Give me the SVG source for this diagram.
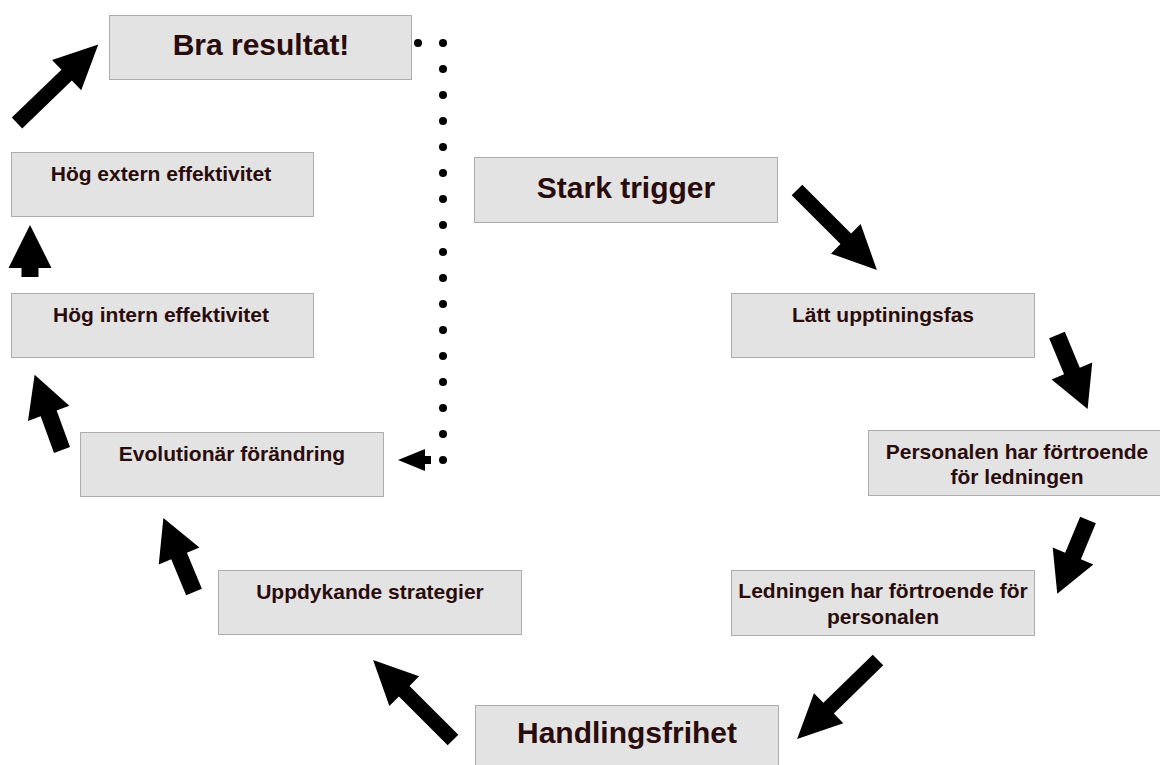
<svg xmlns="http://www.w3.org/2000/svg" xmlns:xlink="http://www.w3.org/1999/xlink" width="1160" height="765" viewBox="0 0 1160 765">
  <style>
    .box { fill: #e3e3e3; stroke: #adadad; stroke-width: 1; }
    .lbl { font-family: "Liberation Sans", Arial, Helvetica, sans-serif; font-weight: bold; fill: #2a0c0c; text-anchor: middle; }
    .big { font-size: 30px; }
    .sm { font-size: 21px; }
    .arrow { fill: #000; }
    .dot { fill: #000; }
  </style>
  <defs>
    <!-- block arrows pointing along +x, tail at origin -->
    <path id="arrowLong" d="M0,-7.5 H69 V-21 L113,0 L69,21 V7.5 H0 Z"/>
    <path id="arrowMid" d="M0,-8.5 H39 V-22 L80,0 L39,22 V8.5 H0 Z"/>
    <path id="arrowShort" d="M0,-8.5 H9 V-21.5 L52,0 L9,21.5 V8.5 H0 Z"/>
  </defs>

  <rect width="1160" height="765" fill="#ffffff"/>

  <g id="connectors" class="arrow">
    <use xlink:href="#arrowLong" transform="translate(17,123) rotate(-44)"/>
    <use xlink:href="#arrowShort" transform="translate(30,277) rotate(-90)"/>
    <use xlink:href="#arrowMid" transform="translate(62,450) rotate(-110)"/>
    <use xlink:href="#arrowMid" transform="translate(194,592) rotate(-112.5)"/>
    <use xlink:href="#arrowLong" transform="translate(453,740) rotate(-135)"/>
    <use xlink:href="#arrowLong" transform="translate(797,190) rotate(45)"/>
    <use xlink:href="#arrowMid" transform="translate(1057,335) rotate(67.5)"/>
    <use xlink:href="#arrowMid" transform="translate(1088,520) rotate(112.6)"/>
    <use xlink:href="#arrowLong" transform="translate(878,660) rotate(135.7)"/>

    <!-- dotted feedback line -->
    <g id="feedback" class="dot">
      <circle cx="418" cy="43" r="4"/>
      <circle cx="443" cy="43" r="4"/>
      <circle cx="443" cy="69" r="4"/>
      <circle cx="443" cy="95" r="4"/>
      <circle cx="443" cy="121" r="4"/>
      <circle cx="443" cy="147" r="4"/>
      <circle cx="443" cy="173" r="4"/>
      <circle cx="443" cy="199" r="4"/>
      <circle cx="443" cy="225" r="4"/>
      <circle cx="443" cy="252" r="4"/>
      <circle cx="443" cy="278" r="4"/>
      <circle cx="443" cy="304" r="4"/>
      <circle cx="443" cy="330" r="4"/>
      <circle cx="443" cy="356" r="4"/>
      <circle cx="443" cy="382" r="4"/>
      <circle cx="443" cy="408" r="4"/>
      <circle cx="443" cy="434" r="4"/>
      <circle cx="443" cy="460" r="4"/>
      <path d="M398,460 L425,449 V456 H431 V464 H425 V471 Z"/>
    </g>
  </g>

  <g id="node-bra-resultat">
    <rect class="box" x="109.5" y="15.5" width="302" height="64"/>
    <text class="lbl big" x="261" y="55">Bra resultat!</text>
  </g>
  <g id="node-hog-extern">
    <rect class="box" x="11.5" y="152.5" width="302" height="64"/>
    <text class="lbl sm" x="161" y="181">Hög extern effektivitet</text>
  </g>
  <g id="node-hog-intern">
    <rect class="box" x="11.5" y="293.5" width="302" height="64"/>
    <text class="lbl sm" x="161" y="322">Hög intern effektivitet</text>
  </g>
  <g id="node-evolutionar">
    <rect class="box" x="80.5" y="432.5" width="303" height="64"/>
    <text class="lbl sm" x="232" y="461">Evolutionär förändring</text>
  </g>
  <g id="node-uppdykande">
    <rect class="box" x="218.5" y="570.5" width="303" height="64"/>
    <text class="lbl sm" x="370" y="599">Uppdykande strategier</text>
  </g>
  <g id="node-stark-trigger">
    <rect class="box" x="474.5" y="157.5" width="303" height="65"/>
    <text class="lbl big" x="626" y="198">Stark trigger</text>
  </g>
  <g id="node-latt">
    <rect class="box" x="731.5" y="293.5" width="303" height="64"/>
    <text class="lbl sm" x="883" y="322">Lätt upptiningsfas</text>
  </g>
  <g id="node-personalen">
    <rect class="box" x="868.5" y="430.5" width="303" height="65"/>
    <text class="lbl sm" x="1017" y="459">Personalen har förtroende</text>
    <text class="lbl sm" x="1017" y="484">för ledningen</text>
  </g>
  <g id="node-ledningen">
    <rect class="box" x="731.5" y="570.5" width="303" height="65"/>
    <text class="lbl sm" x="883" y="598">Ledningen har förtroende för</text>
    <text class="lbl sm" x="883" y="624">personalen</text>
  </g>
  <g id="node-handlingsfrihet">
    <rect class="box" x="475.5" y="705.5" width="303" height="70"/>
    <text class="lbl big" x="627" y="743">Handlingsfrihet</text>
  </g>
</svg>
